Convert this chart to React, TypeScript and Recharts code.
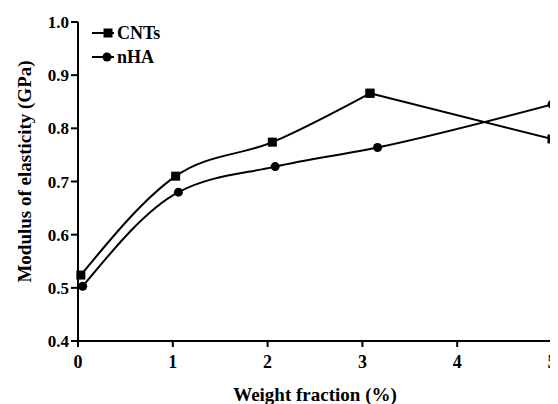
import React from 'react';
import { LineChart, Line, XAxis, YAxis } from 'recharts';

// weight fraction (%) where each sample sits on the x axis
const cntFraction = [0.03, 1.03, 2.05, 3.08, 5];
const cntModulus = [0.524, 0.71, 0.774, 0.866, 0.78];

const nhaFraction = [0.05, 1.06, 2.08, 3.16, 5];
const nhaModulus = [0.503, 0.68, 0.728, 0.764, 0.845];

const xTicks = [0, 1, 2, 3, 4, 5];
const yTicks = [0.4, 0.5, 0.6, 0.7, 0.8, 0.9, 1.0];

const cntData = cntFraction.map((x, i) => ({ x, y: cntModulus[i] }));
const nhaData = nhaFraction.map((x, i) => ({ x, y: nhaModulus[i] }));

// CNTs: smooth up to the peak, straight after it
const cntCurve = cntData.slice(0, 4);
const cntTail = cntData.slice(3);

const FONT = "'Liberation Serif', serif";
const xTickStyle = { fontFamily: FONT, fontSize: 18, fontWeight: 'bold' as const, fill: '#000' };
const yTickStyle = { fontFamily: FONT, fontSize: 17, fontWeight: 'bold' as const, fill: '#000' };

const SquareDot = (props: any) => {
  const { cx, cy, index } = props;
  if (cx == null || cy == null) return <g key={`sq-${index}`} />;
  return <rect key={`sq-${index}`} x={cx - 4.5} y={cy - 4.5} width={9} height={9} fill="#000" />;
};

const legendItems = [
  { name: 'CNTs', shape: 'square' },
  { name: 'nHA', shape: 'circle' },
];

const YTitle = (props: any) => {
  const vb = props.viewBox || { x: 0, y: 0, width: 0, height: 0 };
  const x = vb.x + 16;
  const y = vb.y + vb.height / 2 - 10;
  return (
    <text
      x={x}
      y={y}
      transform={`rotate(-90, ${x}, ${y})`}
      textAnchor="middle"
      dominantBaseline="central"
      fontFamily={FONT}
      fontSize={19}
      fontWeight="bold"
      fill="#000"
    >
      Modulus of elasticity (GPa)
    </text>
  );
};

export default function App() {
  return (
    <div style={{ width: 550, height: 396, position: 'relative', fontFamily: FONT }}>
      <LineChart width={550} height={396} margin={{ top: 14, right: 6, left: 0, bottom: 0 }}>
        <XAxis
          type="number"
          dataKey="x"
          domain={[0, 5]}
          ticks={xTicks}
          height={63}
          stroke="#000"
          strokeWidth={2}
          tickSize={6}
          tickMargin={8}
          tick={xTickStyle}
          tickLine={{ stroke: '#000', strokeWidth: 2 }}
          label={{
            value: 'Weight fraction (%)',
            position: 'insideBottom',
            offset: 3,
            style: { fontFamily: FONT, fontSize: 19, fontWeight: 'bold', fill: '#000' },
          }}
        />
        <YAxis
          type="number"
          domain={[0.4, 1.0]}
          ticks={yTicks}
          width={70}
          stroke="#000"
          strokeWidth={2}
          tickSize={7}
          tickMargin={2}
          tick={yTickStyle}
          tickLine={{ stroke: '#000', strokeWidth: 2 }}
          tickFormatter={(v: number) => v.toFixed(1)}
          label={{ content: YTitle }}
        />
        <Line
          data={cntCurve}
          dataKey="y"
          name="CNTs"
          type="monotone"
          stroke="#000"
          strokeWidth={2}
          dot={SquareDot}
          isAnimationActive={false}
        />
        <Line
          data={cntTail}
          dataKey="y"
          name="CNTs"
          type="linear"
          stroke="#000"
          strokeWidth={2}
          dot={SquareDot}
          legendType="none"
          isAnimationActive={false}
        />
        <Line
          data={nhaData}
          dataKey="y"
          name="nHA"
          type="monotone"
          stroke="#000"
          strokeWidth={2}
          dot={{ r: 4.5, fill: '#000', stroke: '#000', strokeWidth: 0 }}
          isAnimationActive={false}
        />
      </LineChart>
      <div
        style={{
          position: 'absolute',
          left: 84,
          top: 13,
          fontSize: 18,
          fontWeight: 'bold',
          color: '#000',
          lineHeight: '24px',
        }}
      >
        {legendItems.map((item) => (
          <div key={item.name} style={{ display: 'flex', alignItems: 'center', height: 24 }}>
            <svg width={24} height={12} style={{ marginRight: 1 }}>
              <line x1={0} y1={6} x2={22} y2={6} stroke="#000" strokeWidth={2} />
              {item.shape === 'square' ? (
                <rect x={11.5} y={1.5} width={9} height={9} fill="#000" />
              ) : (
                <circle cx={15} cy={6} r={4.5} fill="#000" />
              )}
            </svg>
            <span>{item.name}</span>
          </div>
        ))}
      </div>
    </div>
  );
}
